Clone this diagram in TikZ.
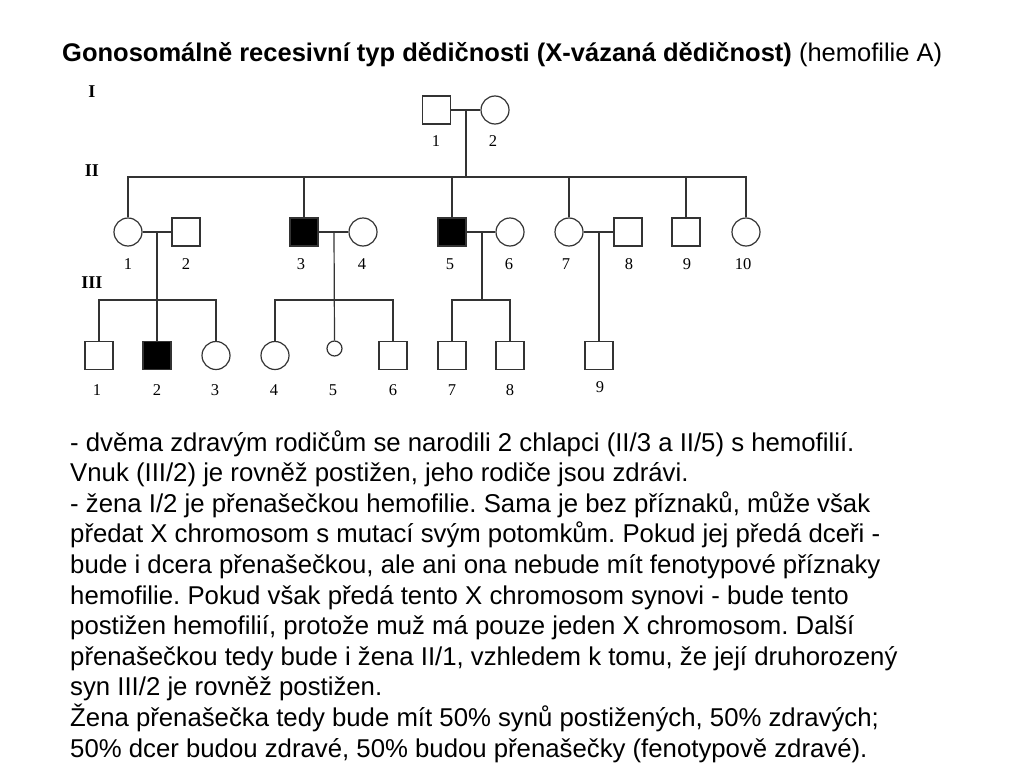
\documentclass[tikz,border=0pt]{standalone}
\usepackage{fontspec}
\setmainfont{Liberation Sans}
\newfontfamily\pedfont{Liberation Serif}
\frenchspacing
\begin{document}
\begin{tikzpicture}[x=1pt,y=-1pt,
  line/.style={draw=black!80, line width=1.2pt},
  male/.style={rectangle, line, minimum size=28pt, inner sep=0pt, fill=white},
  female/.style={circle, line, minimum size=28pt, inner sep=0pt, fill=white},
  aff/.style={fill=black},
  small/.style={circle, line, minimum size=15pt, inner sep=0pt, fill=white},
  num/.style={font=\pedfont\fontsize{16.5}{16.5}\selectfont, inner sep=0pt},
  gen/.style={font=\pedfont\bfseries\fontsize{18}{18}\selectfont, inner sep=0pt},
  body/.style={anchor=base west, inner sep=0pt, font=\fontsize{25.75}{25.75}\selectfont}
]
\useasboundingbox (0,0) rectangle (1024,768);
% title
\node[anchor=base west, inner sep=0pt, font=\fontsize{25.5}{25.5}\selectfont] (title) at (62,61)
  {\textbf{Gonosomálně recesivní typ dědičnosti (X-vázaná dědičnost)} (hemofilie A)};
% generation labels
\node[gen] (gI) at (92,92) {I};
\node[gen] (gII) at (92,171) {II};
\node[gen] (gIII) at (92,283) {III};
% generation I
\node[male] (I1) at (436.5,110) {};
\node[female] (I2) at (495,110) {};
% generation II
\node[female] (II1) at (128,232) {};
\node[male] (II2) at (186,232) {};
\node[male,aff] (II3) at (304,232) {};
\node[female] (II4) at (363,232) {};
\node[male,aff] (II5) at (452,232) {};
\node[female] (II6) at (510,232) {};
\node[female] (II7) at (569,232) {};
\node[male] (II8) at (628,232) {};
\node[male] (II9) at (686,232) {};
\node[female] (II10) at (746,232) {};
% generation III
\node[male] (III1) at (99,355.5) {};
\node[male,aff] (III2) at (157,355.5) {};
\node[female] (III3) at (216,355.5) {};
\node[female] (III4) at (275,355.5) {};
\node[small] (III5) at (334.5,348.5) {};
\node[male] (III6) at (393,355.5) {};
\node[male] (III7) at (452,355.5) {};
\node[male] (III8) at (510,355.5) {};
\node[male] (III9) at (599,355.5) {};
% coordinates
\coordinate (m1) at (466,110);
\coordinate (s2) at (466,177);
\coordinate (m21) at (157,232);
\coordinate (m23) at (334,232);
\coordinate (m25) at (482,232);
\coordinate (m27) at (599,232);
\coordinate (s3) at (0,300);
% connectors gen I
\draw[line] (I1) -- (I2);
\draw[line] (m1) -- (s2);
\draw[line] (II1.north) |- (II10.north |- s2) -- (II10.north);
\foreach \n in {II3,II5,II7,II9} \draw[line] (\n.north) -- (\n.north |- s2);
% connectors gen II
\draw[line] (II1) -- (II2);
\draw[line] (II3) -- (II4);
\draw[line] (II5) -- (II6);
\draw[line] (II7) -- (II8);
\draw[line] (m21) -- (III2.north);
\draw[line] (III1.north) |- (III3.north |- s3) -- (III3.north);
\draw[line] (m23) -- (III5.north);
\draw[line] (III4.north) |- (III6.north |- s3) -- (III6.north);
\draw[line] (m25) -- (m25 |- s3);
\draw[line] (III7.north) |- (III8.north |- s3) -- (III8.north);
\draw[line] (m27) -- (III9.north);
% numbers
\node[num] (nI1) at (436,141) {1};
\node[num] (nI2) at (493,141) {2};
\node[num] (n21) at (128,264) {1};
\node[num] (n22) at (186,264) {2};
\node[num] (n23) at (301,264) {3};
\node[num] (n24) at (362,264) {4};
\node[num] (n25) at (450,264) {5};
\node[num] (n26) at (509,264) {6};
\node[num] (n27) at (566,264) {7};
\node[num] (n28) at (629,264) {8};
\node[num] (n29) at (687,264) {9};
\node[num] (n210) at (743,264) {10};
\node[num] (n31) at (97,390) {1};
\node[num] (n32) at (157,390) {2};
\node[num] (n33) at (215,390) {3};
\node[num] (n34) at (274,390) {4};
\node[num] (n35) at (333,390) {5};
\node[num] (n36) at (393,390) {6};
\node[num] (n37) at (452,390) {7};
\node[num] (n38) at (510,390) {8};
\node[num] (n39) at (600,387) {9};
% body text
\node[body] (t1) at (70,451) {- dvěma zdravým rodičům se narodili 2 chlapci (II/3 a II/5) s hemofilií.};
\node[body] (t2) at (70,481.6) {Vnuk (III/2) je rovněž postižen, jeho rodiče jsou zdrávi.};
\node[body] (t3) at (70,512.2) {- žena I/2 je přenašečkou hemofilie. Sama je bez příznaků, může však};
\node[body] (t4) at (70,542.8) {předat X chromosom s mutací svým potomkům. Pokud jej předá dceři -};
\node[body] (t5) at (70,573.4) {bude i dcera přenašečkou, ale ani ona nebude mít fenotypové příznaky};
\node[body] (t6) at (70,604) {hemofilie. Pokud však předá tento X chromosom synovi - bude tento};
\node[body] (t7) at (70,634.6) {postižen hemofilií, protože muž má pouze jeden X chromosom. Další};
\node[body] (t8) at (70,665.2) {přenašečkou tedy bude i žena II/1, vzhledem k tomu, že její druhorozený};
\node[body] (t9) at (70,695.8) {syn III/2 je rovněž postižen.};
\node[body] (t10) at (70,726.4) {Žena přenašečka tedy bude mít 50\% synů postižených, 50\% zdravých;};
\node[body] (t11) at (70,757) {50\% dcer budou zdravé, 50\% budou přenašečky (fenotypově zdravé).};
\end{tikzpicture}
\end{document}
